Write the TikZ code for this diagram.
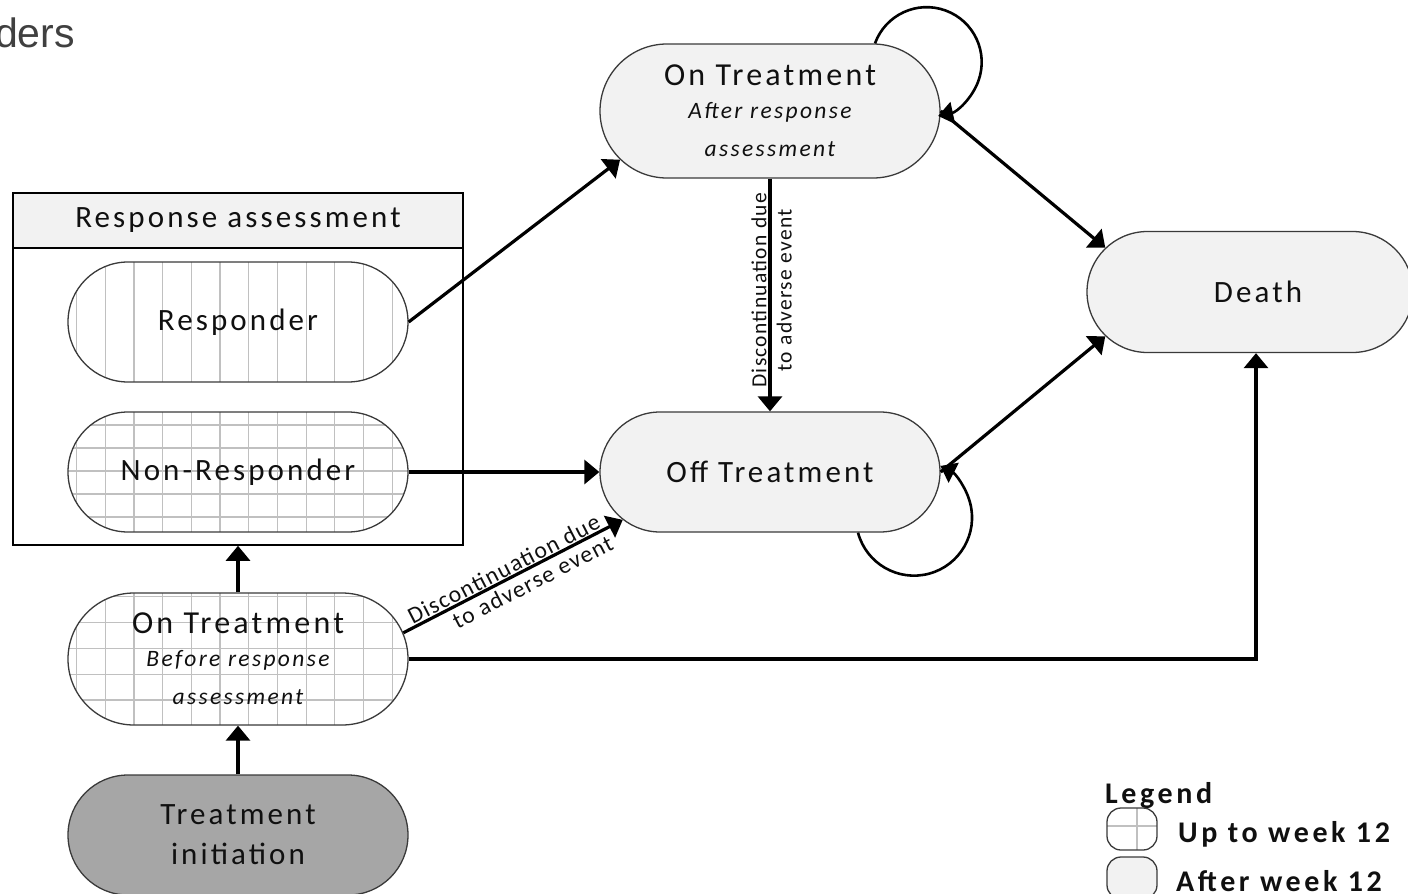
\documentclass[tikz,border=0pt]{standalone}
\usepackage{fontspec}
\setmainfont{Carlito}[LetterSpace=10]
\newfontfamily\legfont{Carlito}[LetterSpace=12]
\newfontfamily\labfont{Carlito}[LetterSpace=6]
\newfontfamily\arialfont{Liberation Sans}
\usetikzlibrary{shapes.misc,arrows.meta}

\definecolor{lightfill}{HTML}{F2F2F2}
\definecolor{darkfill}{HTML}{A6A6A6}
\definecolor{gridgrey}{HTML}{C0C0C0}
\definecolor{bordergrey}{HTML}{3A3A3A}
\definecolor{textdark}{HTML}{101010}
\definecolor{dersgrey}{HTML}{404040}

\newcommand\myvgrid{\foreach \i in {-5,...,6}{\draw[gridline] ([xshift=\i*28.7pt-18pt]path picture bounding box.south) -- ([xshift=\i*28.7pt-18pt]path picture bounding box.north);}}
\newcommand\myhgrid[2]{\foreach \j in {-3,...,3}{\draw[gridline] ([yshift=\j*#2+#1]path picture bounding box.west) -- ([yshift=\j*#2+#1]path picture bounding box.east);}}

\tikzset{
  gridline/.style={gridgrey, line width=1.2pt},
  state/.style={rounded rectangle, draw=bordergrey, line width=1.3pt,
    minimum width=340pt, minimum height=120pt, inner sep=0pt, align=center,
    text=textdark, font=\fontsize{31}{40}\selectfont},
  twoline/.style={font=\fontsize{23.5}{33}\selectfont},
  vgridfill/.style={fill=white, path picture={\myvgrid}},
  nrgridfill/.style={fill=white, path picture={\myvgrid\myhgrid{1pt}{23pt}}},
  otbgridfill/.style={fill=white, path picture={\myvgrid\myhgrid{10.7pt}{25.8pt}}},
  arr/.style={line width=3.2pt, -{Triangle[length=15pt,width=24pt]}},
  looparr/.style={line width=2.6pt, -{Triangle[length=15pt,width=22pt]}},
  edgelabel/.style={font=\labfont\fontsize{23.5}{26}\selectfont, text=textdark, inner sep=2pt},
  vlabel/.style={font=\labfont\fontsize{21.5}{26}\selectfont, text=textdark, inner sep=2pt},
  legtext/.style={font=\legfont\bfseries\fontsize{30}{30}\selectfont, text=textdark, anchor=base west, inner sep=0pt},
  legicon/.style={draw=bordergrey, line width=1.3pt, rounded corners=14pt,
    minimum width=50pt, minimum height=42pt, inner sep=0pt}
}

\begin{document}
\begin{tikzpicture}[x=1pt,y=-1pt]
\useasboundingbox (0,0) rectangle (1408,894);

% cut-off title
\node[font=\arialfont\fontsize{41}{41}\selectfont, text=dersgrey,
      anchor=base east, inner sep=0pt] (ders) at (75,47) {ders};

% response assessment box
\node[draw=black, line width=1.6pt, minimum width=450pt, minimum height=352pt, inner sep=0pt] (rabox) at (238,369) {};
\node[draw=black, line width=1.6pt, fill=lightfill, minimum width=450pt, minimum height=55pt, inner sep=0pt,
      text=textdark, font=\fontsize{31}{36}\selectfont] (rahead) at (238,220.5) {Response assessment};

% states
\node[state, vgridfill] (resp) at (238,322) {Responder};
\node[state, nrgridfill] (nonresp) at (238,472) {Non-Responder};
\node[state, otbgridfill, minimum height=132pt, twoline] (otb) at (238,659)
  {{\fontsize{32}{33}\selectfont On Treatment}\\{\itshape Before response}\\[5pt]{\itshape assessment}};
\node[state, fill=darkfill] (ti) at (238,835) {Treatment\\initiation};

\node[state, fill=lightfill, minimum height=134pt, twoline] (ota) at (770,111)
  {{\fontsize{32}{33}\selectfont On Treatment}\\{\itshape After response}\\[5pt]{\itshape assessment}};
\node[state, fill=lightfill] (off) at (770,472) {Off Treatment};
\node[state, fill=lightfill, minimum width=326pt, minimum height=121pt] (death) at (1250,292) {\hspace*{16pt}Death};

% connectors
\draw[arr] (ti.north) -- (otb.south);
\draw[arr] (otb.north) -- (rabox.south);
\draw[arr] (resp.east) -- (ota.198);
\draw[arr] (nonresp.east) -- (off.west);
\draw[arr] (otb.9) -- (off.198)
  node[pos=0.48, sloped, anchor=south, edgelabel, inner sep=1pt] (lab1a) {Discontinuation due}
  node[pos=0.56, sloped, anchor=north, edgelabel, inner sep=4pt] (lab1b) {to adverse event};
\draw[arr] (otb.east) -| ([xshift=6pt]death.south);
\draw[arr] (ota.south) -- (off.north)
  node[pos=0.48, rotate=90, anchor=south, vlabel] (lab2a) {Discontinuation due}
  node[pos=0.48, rotate=90, anchor=north, vlabel, inner sep=5pt] (lab2b) {to adverse event};
\draw[arr] (ota.east) -- (death.163);
\draw[arr] (off.east) -- (death.197);

% self loops
\draw[looparr] ([xshift=105pt]ota.north) arc[start angle=-160, end angle=78, radius=55];
\draw[looparr] ([xshift=88pt]off.south) arc[start angle=165, end angle=-63, radius=58];

% legend
\node[legtext] (legtitle) at (1105,803) {Legend};
\node[legicon, fill=white, path picture={
    \draw[gridline, line width=2pt] ([xshift=5pt]path picture bounding box.south) -- ([xshift=5pt]path picture bounding box.north);
    \draw[gridline, line width=2pt] ([yshift=3pt]path picture bounding box.west) -- ([yshift=3pt]path picture bounding box.east);}]
  (leg1) at (1132,829) {};
\node[legicon, fill=lightfill] (leg2) at (1132,878) {};
\node[legtext] (leg1t) at (1178,842) {Up to week 12};
\node[legtext] (leg2t) at (1176,891) {After week 12};
\end{tikzpicture}
\end{document}
